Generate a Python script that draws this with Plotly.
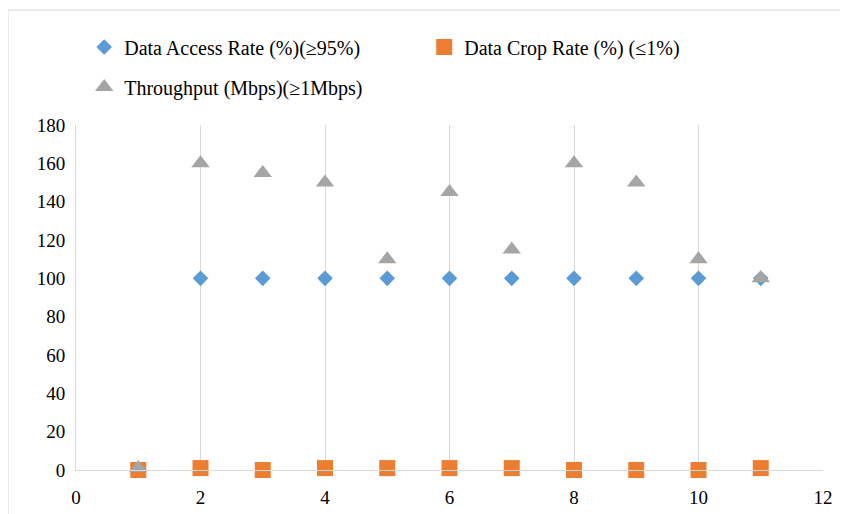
import plotly.graph_objects as go

x_vals = [1, 2, 3, 4, 5, 6, 7, 8, 9, 10, 11]
access_rate = [0, 100, 100, 100, 100, 100, 100, 100, 100, 100, 100]
crop_rate = [0, 1, 0, 1, 1, 1, 1, 0, 0, 0, 1]
throughput = [1, 160, 155, 150, 110, 145, 115, 160, 150, 110, 100]

names = ["Data Access Rate (%)(≥95%)", "Data Crop Rate (%) (≤1%)", "Throughput (Mbps)(≥1Mbps)"]
colors = ["#5B9BD5", "#ED7D31", "#A5A5A5"]

FONT = "Liberation Serif, Times New Roman, Times, serif"
fig = go.Figure()
fig.add_trace(go.Scatter(x=x_vals, y=access_rate, mode="markers", name=names[0], cliponaxis=False,
                         marker=dict(symbol="diamond", size=12, color=colors[0]), legend="legend"))
fig.add_trace(go.Scatter(x=x_vals, y=crop_rate, mode="markers", name=names[1], cliponaxis=False,
                         marker=dict(symbol="square", size=16, color=colors[1]), legend="legend"))
fig.add_trace(go.Scatter(x=x_vals, y=throughput, mode="markers", name=names[2], cliponaxis=False,
                         marker=dict(symbol="triangle-up", size=16, color=colors[2]), legend="legend2"))

grid = "#D9D9D9"
fig.update_layout(
    width=840, height=506,
    margin=dict(l=68, r=25, t=117, b=44, autoexpand=False),
    paper_bgcolor="white", plot_bgcolor="white",
    font=dict(family=FONT, size=19, color="#000000"),
    xaxis=dict(range=[0, 12], dtick=2, tick0=0, showgrid=True, gridcolor=grid, gridwidth=1,
               zeroline=False, showline=True, linecolor=grid, linewidth=1,
               ticks="outside", ticklen=10, tickcolor="rgba(0,0,0,0)",
               tickfont=dict(family=FONT, size=19, color="#000000")),
    yaxis=dict(range=[0, 180], dtick=20, tick0=0, showgrid=False, zeroline=False,
               showline=True, linecolor=grid, linewidth=1,
               ticks="outside", ticklen=6, tickcolor="rgba(0,0,0,0)",
               tickfont=dict(family=FONT, size=19, color="#000000")),
    legend=dict(orientation="h", x=0.011, y=1.226, xanchor="left", yanchor="middle",
                entrywidth=295, entrywidthmode="pixels",
                font=dict(family=FONT, size=20, color="#000000"), bgcolor="rgba(0,0,0,0)"),
    legend2=dict(orientation="h", x=0.011, y=1.110, xanchor="left", yanchor="middle",
                 font=dict(family=FONT, size=20, color="#000000"), bgcolor="rgba(0,0,0,0)"),
    showlegend=True,
    shapes=[dict(type="rect", xref="paper", yref="paper", x0=-0.091, x1=1.2, y0=-0.3, y1=1.333,
                 line=dict(color=grid, width=1), fillcolor="rgba(0,0,0,0)", layer="below")],
)

fig.write_html("out.html")
